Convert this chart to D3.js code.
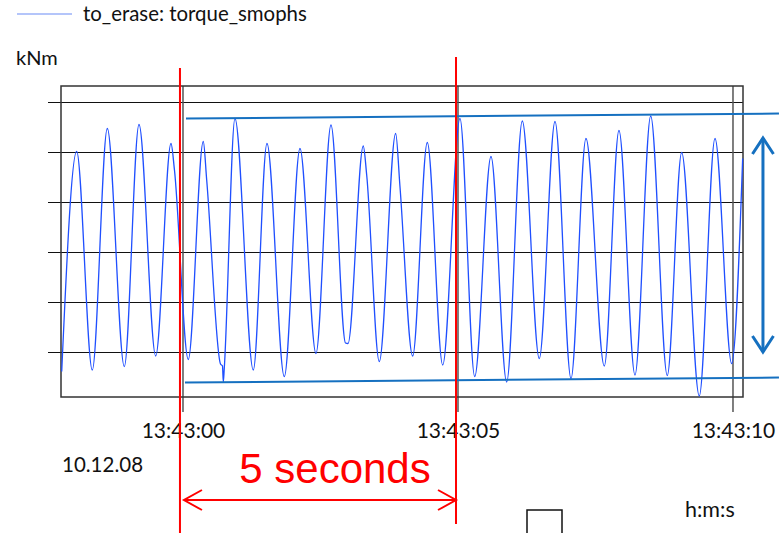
<!DOCTYPE html>
<html>
<head>
<meta charset="utf-8">
<script src="https://cdn.jsdelivr.net/npm/d3@7"></script>
<style>
  body { margin: 0; background: #fff; }
  svg { display: block; font-family: Lato, "Open Sans", sans-serif; }
</style>
</head>
<body>
<svg width="779" height="533"></svg>
<script>
// torque signal, seconds relative to 13:43:00 and kNm (no scale printed on the chart)
const times = [
  -2.205, -1.933, -1.649, -1.376, -1.067, -0.8, -0.496, -0.218, -0.155, 0.096,
  0.369, 0.431, 0.682, 0.718, 0.733, 0.751, 0.945, 1.278, 1.527, 1.842,
  2.127, 2.418, 2.691, 2.955, 3.0, 3.278, 3.34, 3.569, 3.867, 3.945,
  4.176, 4.442, 4.722, 5.036, 5.304, 5.6, 5.885, 6.169, 6.478, 6.764,
  7.055, 7.327, 7.66, 7.927, 8.218, 8.504, 8.805, 9.067, 9.387, 9.673,
  9.976, 10.176
];
const torque = [
  -3.9, 40.1, -3.6, 44.7, -2.9, 45.5, -0.8, 41.7, 36.4, -1.5,
  42.1, 34.4, -2.4, -2.8, -6.0, -3.2, 46.7, -3.6, 41.7, -4.9,
  40.7, -0.3, 45.4, 1.8, 1.7, 41.2, 35.4, -1.9, 43.7, 33.1,
  -0.8, 41.9, -2.6, 46.7, -4.9, 39.1, -6.0, 46.2, -1.3, 46.1,
  -5.3, 42.7, -2.8, 44.3, -4.6, 47.2, -4.7, 39.9, -8.8, 42.7,
  -2.3, 38.7
];

const timeTicks = [0, 5, 10];
const timeLabels = ["13:43:00", "13:43:05", "13:43:10"];
const gridValues = [0, 10, 20, 30, 40, 50];

// hand-drawn annotations (data units)
const upperEnvelope = [[0.055, 46.7], [10.836, 47.7]];
const lowerEnvelope = [[0.036, -6.1], [10.836, -5.1]];
const rangeArrow = [[10.545, 42.8], [10.545, 0]];
const markTimes = [-0.055, 4.964];

const plotLeft = 61, plotTop = 86, plotRight = 743, plotBottom = 397;

const svg = d3.select("svg");

const x = d3.scaleLinear()
  .domain([-2.218, 10.182])
  .range([plotLeft, plotRight]);

const y = d3.scaleLinear()
  .domain([-9, 53.2])
  .range([plotBottom, plotTop]);

// legend
svg.append("line")
  .attr("x1", 17).attr("x2", 72)
  .attr("y1", 14).attr("y2", 14)
  .attr("stroke", "#6a8cf5")
  .attr("stroke-width", 1.2);
svg.append("text")
  .attr("x", 83).attr("y", 20.5)
  .attr("font-size", "20.4px")
  .attr("fill", "#111")
  .text("to_erase: torque_smophs");

svg.append("text")
  .attr("x", 16).attr("y", 65)
  .attr("font-size", "20px")
  .attr("fill", "#111")
  .text("kNm");

// horizontal grid
const yGrid = d3.axisLeft(y)
  .tickValues(gridValues)
  .tickSize(plotRight - 48)
  .tickFormat("");
svg.append("g")
  .attr("transform", `translate(${plotRight},0)`)
  .call(yGrid)
  .call(g => g.select(".domain").remove())
  .selectAll("line")
    .attr("stroke", "#111")
    .attr("stroke-width", 1.2);

// vertical time lines + labels
svg.append("g")
  .selectAll("line")
  .data(timeTicks)
  .enter().append("line")
    .attr("x1", d => x(d)).attr("x2", d => x(d))
    .attr("y1", plotTop).attr("y2", plotBottom + 15)
    .attr("stroke", "#555")
    .attr("stroke-width", 1.5);

const xAxis = d3.axisBottom(x)
  .tickValues(timeTicks)
  .tickSize(0)
  .tickPadding(26)
  .tickFormat((d, i) => timeLabels[i]);
svg.append("g")
  .attr("transform", `translate(0,${plotBottom})`)
  .call(xAxis)
  .call(g => g.select(".domain").remove())
  .selectAll("text")
    .attr("font-family", "Lato, sans-serif")
    .attr("font-size", "21px")
    .attr("fill", "#111");

// frame
svg.append("rect")
  .attr("x", plotLeft).attr("y", plotTop)
  .attr("width", plotRight - plotLeft)
  .attr("height", plotBottom - plotTop)
  .attr("fill", "none")
  .attr("stroke", "#333")
  .attr("stroke-width", 1.5);

// signal
const line = d3.line()
  .x((d, i) => x(times[i]))
  .y(d => y(d))
  .curve(d3.curveMonotoneX);

svg.append("path")
  .datum(torque)
  .attr("d", line)
  .attr("fill", "none")
  .attr("stroke", "#1f4fff")
  .attr("stroke-width", 1.3);

// envelope lines
const seg = d3.line().x(d => x(d[0])).y(d => y(d[1]));
[upperEnvelope, lowerEnvelope].forEach(s => {
  svg.append("path")
    .attr("d", seg(s))
    .attr("fill", "none")
    .attr("stroke", "#1570c0")
    .attr("stroke-width", 2);
});

// vertical double arrow
const ax = x(rangeArrow[0][0]);
const ay1 = y(rangeArrow[0][1]), ay2 = y(rangeArrow[1][1]);
svg.append("line")
  .attr("x1", ax).attr("x2", ax)
  .attr("y1", ay1).attr("y2", ay2)
  .attr("stroke", "#1570c0")
  .attr("stroke-width", 3);
svg.append("path")
  .attr("d", `M${ax - 10.5},${ay1 + 16}L${ax},${ay1}L${ax + 10.5},${ay1 + 16}` +
             `M${ax - 10.5},${ay2 - 16}L${ax},${ay2}L${ax + 10.5},${ay2 - 16}`)
  .attr("fill", "none")
  .attr("stroke", "#1570c0")
  .attr("stroke-width", 3);

// red 5 second marks
svg.append("line")
  .attr("x1", x(markTimes[0])).attr("x2", x(markTimes[0]))
  .attr("y1", 68).attr("y2", 533)
  .attr("stroke", "#ff0000")
  .attr("stroke-width", 2);
svg.append("line")
  .attr("x1", x(markTimes[1])).attr("x2", x(markTimes[1]))
  .attr("y1", 57).attr("y2", 524)
  .attr("stroke", "#ff0000")
  .attr("stroke-width", 2);

const hx1 = x(markTimes[0]) + 4, hx2 = x(markTimes[1]), hy = 500;
svg.append("line")
  .attr("x1", hx1).attr("x2", hx2)
  .attr("y1", hy).attr("y2", hy)
  .attr("stroke", "#ff0000")
  .attr("stroke-width", 2);
svg.append("path")
  .attr("d", `M${hx1 + 18},${hy - 10}L${hx1},${hy}L${hx1 + 18},${hy + 10}` +
             `M${hx2 - 18},${hy - 10}L${hx2},${hy}L${hx2 - 18},${hy + 10}`)
  .attr("fill", "none")
  .attr("stroke", "#ff0000")
  .attr("stroke-width", 2);

svg.append("text")
  .attr("x", (hx1 + hx2) / 2 + 15).attr("y", 483)
  .attr("text-anchor", "middle")
  .attr("font-family", "'Liberation Sans', Arial, sans-serif")
  .attr("font-size", "42px")
  .attr("fill", "#ff0000")
  .text("5 seconds");

// date and unit
svg.append("text")
  .attr("x", 62).attr("y", 472)
  .attr("font-size", "20.5px")
  .attr("fill", "#111")
  .text("10.12.08");
svg.append("text")
  .attr("x", 685).attr("y", 517)
  .attr("font-size", "21.5px")
  .attr("fill", "#111")
  .text("h:m:s");

svg.append("rect")
  .attr("x", 527).attr("y", 510)
  .attr("width", 35).attr("height", 40)
  .attr("fill", "none")
  .attr("stroke", "#111")
  .attr("stroke-width", 1.5);
</script>
</body>
</html>
